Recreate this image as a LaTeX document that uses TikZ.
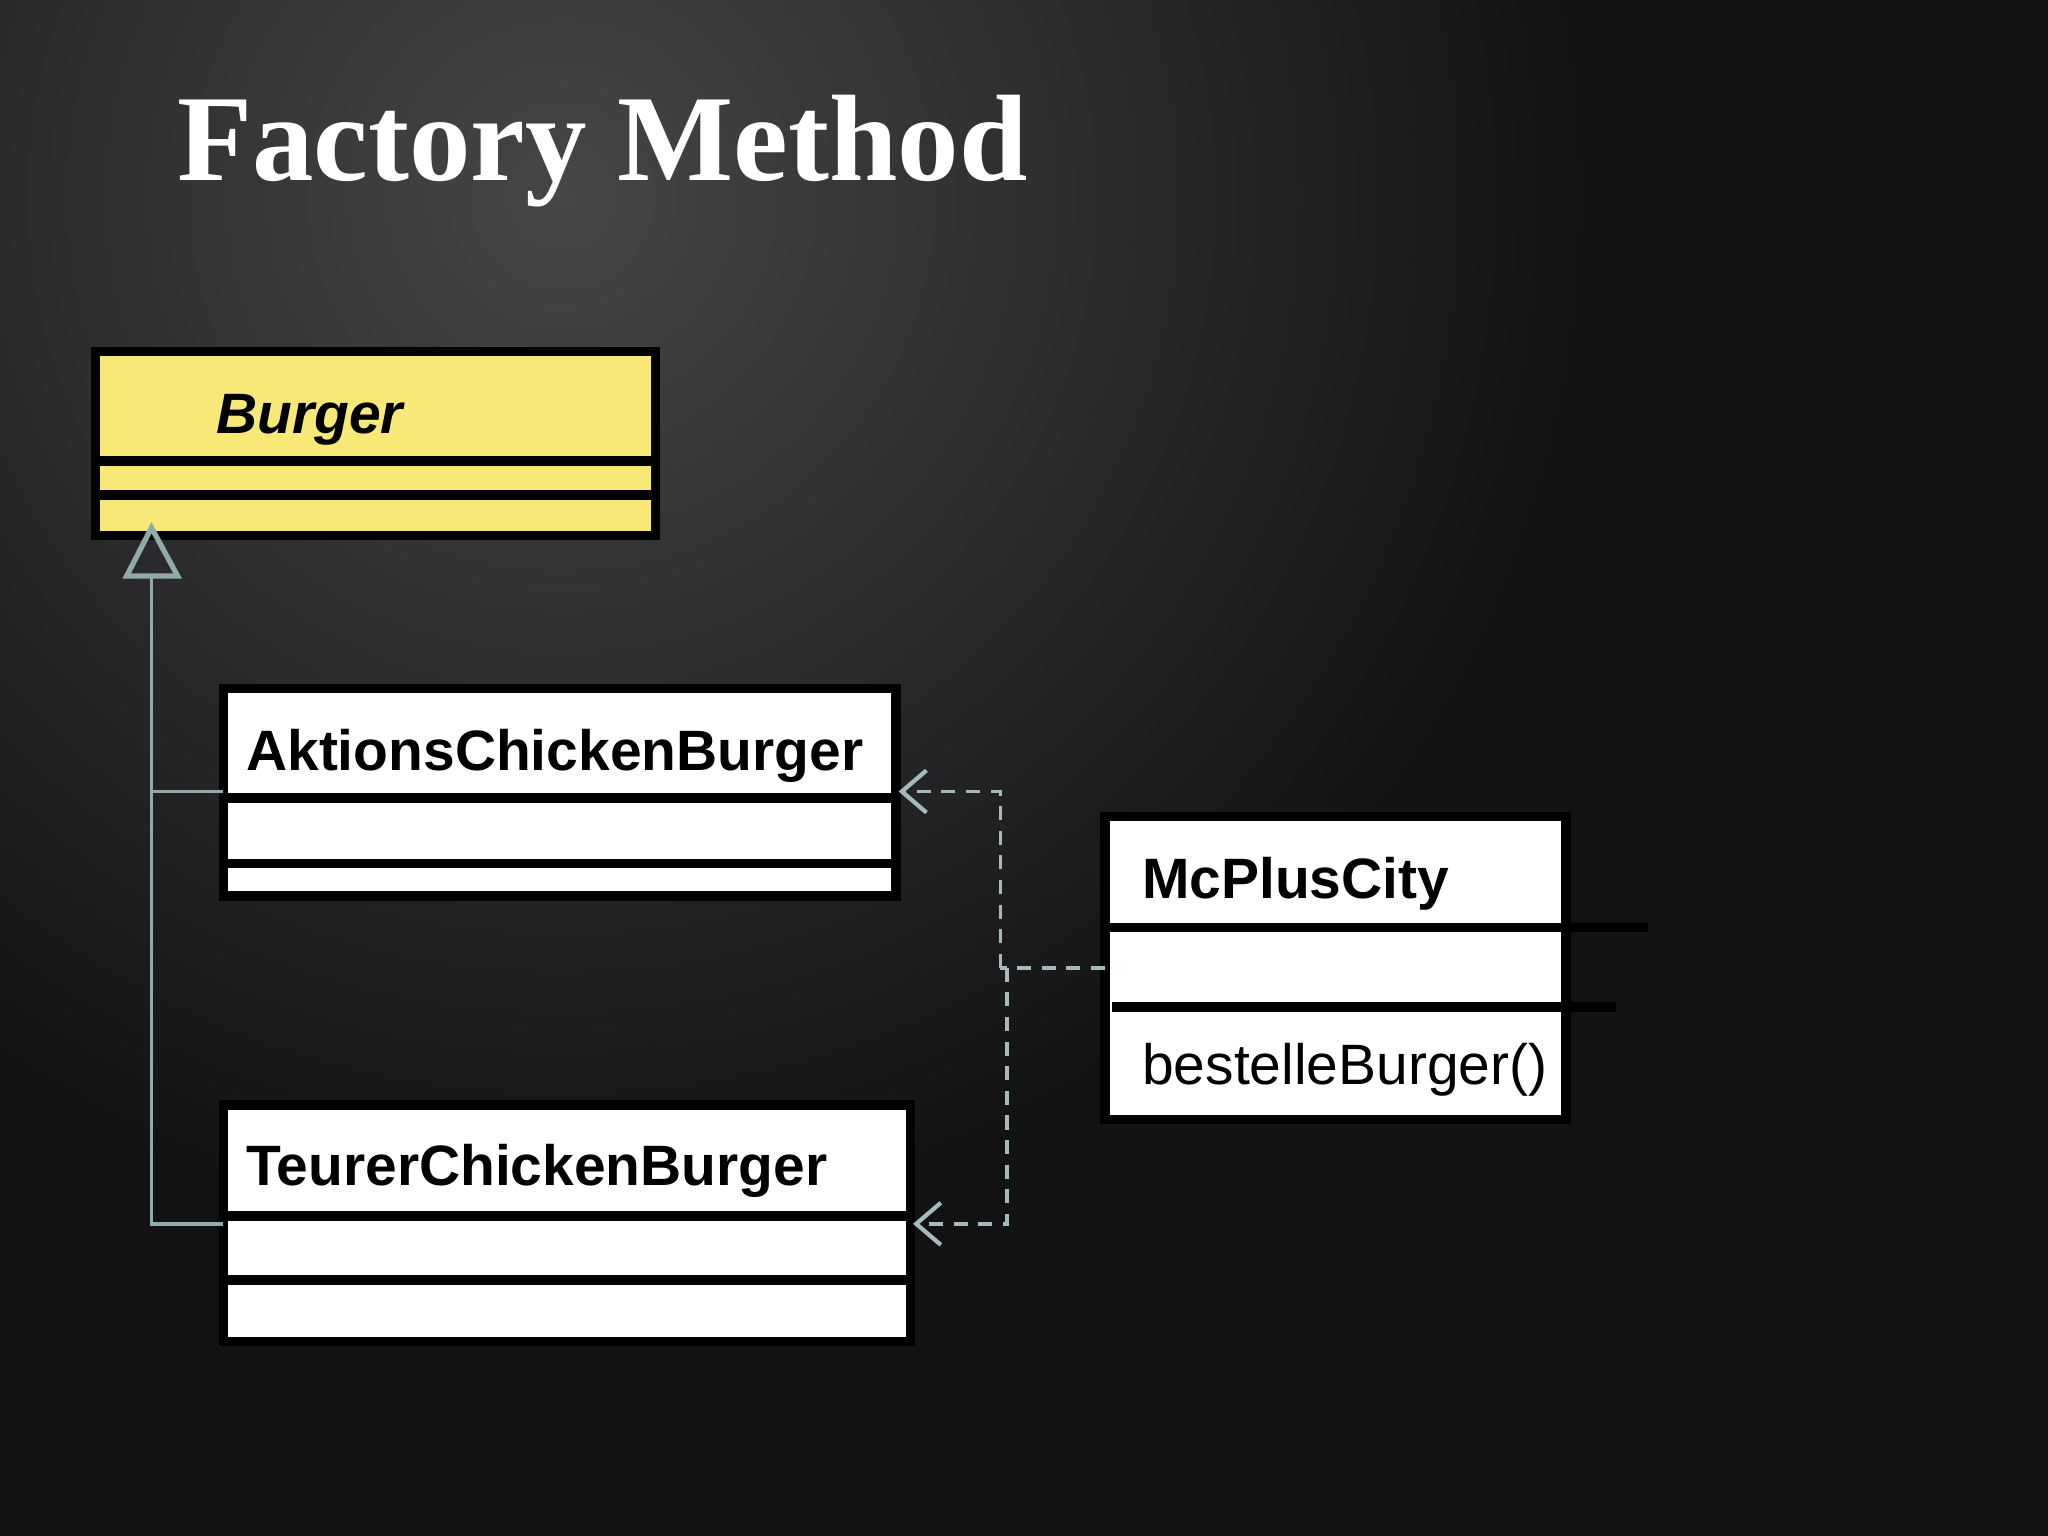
\documentclass[tikz,border=0pt]{standalone}
\usepackage{fontspec}
\setmainfont{Liberation Serif}
\setsansfont{Liberation Sans}
\usetikzlibrary{arrows.meta}
\definecolor{yel}{HTML}{F8E877}
\definecolor{teal}{HTML}{8FAAA7}
\definecolor{dk}{HTML}{121214}
\tikzset{
  cls/.style={draw=black,line width=2.6pt},
  sep/.style={draw=black,line width=2.6pt},
  inh/.style={draw=teal,line width=1pt},
  dep/.style={draw=teal!80!white,line width=1pt,dash pattern=on 4pt off 3pt},
  deptip/.style={-{Straight Barb[length=7pt,width=12pt,line width=1.2pt]}},
  lbl/.style={anchor=base west,font=\sffamily\bfseries\fontsize{16.2}{19}\selectfont,text=black,inner sep=0pt}
}
\begin{document}
\begin{tikzpicture}[x=0.01306cm,y=-0.01306cm]
\useasboundingbox (0,0) rectangle (1568,1176);
\fill[dk] (0,0) rectangle (1568,1176);
\shade[inner color=white!22!dk,outer color=dk,draw=none] (430,150) circle (800);
\node[anchor=base west,text=white,inner sep=0pt,font=\bfseries\fontsize{35}{40}\selectfont] (title) at (135,138) {Factory Method};
% Burger
\path[fill=yel,cls] (73,269) rectangle (502,410);
\draw[sep] (73,353) -- (502,353); \draw[sep] (73,379) -- (502,379);
\node[lbl,font=\sffamily\bfseries\itshape\fontsize{16.2}{19}\selectfont] (burger) at (165,332) {Burger};
\coordinate (bt) at (116,402);
% Aktions
\path[fill=white,cls] (171,527) rectangle (686,686);
\draw[sep] (171,611) -- (686,611); \draw[sep] (171,661) -- (686,661);
\node[lbl] (akt) at (188,590) {AktionsChickenBurger};
% Teurer
\path[fill=white,cls] (171,846) rectangle (697,1027);
\draw[sep] (171,931) -- (697,931); \draw[sep] (171,980) -- (697,980);
\node[lbl] (teu) at (188,908) {TeurerChickenBurger};
% McPlusCity
\path[fill=white,cls] (846,625) rectangle (1199,857);
\draw[sep] (846,710) -- (1262,710); \draw[sep] (851,771) -- (1237,771);
\node[lbl] (mc) at (874,688) {McPlusCity};
\node[lbl,font=\sffamily\fontsize{16.2}{19}\selectfont] (op) at (874,830) {bestelleBurger()};
% inheritance
\draw[inh,fill=none,line width=1.5pt] (116,404) -- (136,441) -- (97,441) -- cycle;
\draw[inh] (116,441) -- (116,937) -- (171,937);
\draw[inh] (116,606) -- (171,606);
% dependencies
\draw[dep] (846,741) -- (766,741);
\draw[dep,deptip] (766,741) -- (766,606) -- (688,606);
\draw[dep,deptip] (771,741) -- (771,937) -- (699,937);
\end{tikzpicture}
\end{document}
